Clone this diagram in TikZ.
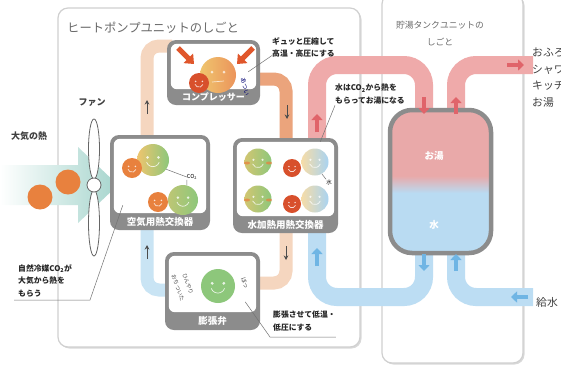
\documentclass[tikz,border=0pt]{standalone}
\usepackage{fontspec}
\setmainfont{Noto Sans CJK JP}
\usetikzlibrary{positioning,arrows.meta,shadows}

\definecolor{framegray}{HTML}{D0D0D0}
\definecolor{boxgray}{HTML}{8C8C8C}
\definecolor{textgray}{HTML}{6A6A6A}
\definecolor{peach}{HTML}{F5D6BF}
\definecolor{orangepipe}{HTML}{EBA47C}
\definecolor{bluepipe}{HTML}{C9E4F4}
\definecolor{hotpipe}{HTML}{EFAAAA}
\definecolor{coldpipe}{HTML}{BCDDF3}
\definecolor{hotarrow}{HTML}{E0646A}
\definecolor{coldarrow}{HTML}{6FB5E4}
\definecolor{tealair}{HTML}{A6D5CD}
\definecolor{faceorange}{HTML}{E8813E}
\definecolor{facered}{HTML}{D8502C}
\definecolor{facegreen}{HTML}{8DC77B}
\definecolor{faceyellow}{HTML}{EFC56E}
\definecolor{faceblue}{HTML}{A9D3F1}
\definecolor{tankpink}{HTML}{E9A9A9}
\definecolor{tankblue}{HTML}{B9DBF2}
\definecolor{squeeze}{HTML}{E0562B}

\pgfdeclareverticalshading{tankfill}{100bp}{color(0bp)=(tankblue); color(46bp)=(tankblue); color(52bp)=(tankpink); color(100bp)=(tankpink)}

% face: name, position, diameter, fill options
\newcommand{\smileface}[4]{%
  \node[circle, inner sep=0pt, minimum size=#3, #4] (#1) at (#2) {};
  \fill[white, opacity=.8] ([shift={(-0.17*#3,0.08*#3)}]#1.center) circle[radius=0.045*#3];
  \fill[white, opacity=.8] ([shift={(0.17*#3,0.08*#3)}]#1.center) circle[radius=0.045*#3];
  \draw[white, opacity=.8, line width=0.7pt] ([shift={(-0.2*#3,-0.07*#3)}]#1.center) arc[start angle=200, end angle=340, radius=0.21*#3];
}

\begin{document}
\begin{tikzpicture}[x=1pt,y=-1pt]
  \tikzstyle{panel}=[draw=framegray, line width=1.2pt, fill=white, rounded corners=10pt,
    drop shadow={shadow xshift=1.5pt, shadow yshift=-1.5pt, fill=black!30}]
  \tikzstyle{unit}=[rectangle, fill=boxgray, rounded corners=9pt, inner sep=0pt]
  \tikzstyle{bandlabel}=[text=white, font=\bfseries\fontsize{9.5}{10}\selectfont, inner sep=0pt]
  \tikzstyle{refpipe}=[line width=13pt, rounded corners=12pt]
  \tikzstyle{waterpipe}=[line width=18pt, rounded corners=20pt]
  \tikzstyle{flow}=[-{Stealth[length=4.5pt,width=4.5pt]}, line width=0.9pt, black!70]
  \tikzstyle{blockarrow}=[-{Triangle[length=6pt,width=11pt]}, line width=4.5pt]
  \tikzstyle{note}=[font=\bfseries\fontsize{7.8}{12.5}\selectfont, align=left, text=black!85,
    inner sep=0pt, anchor=north west]
  \tikzstyle{leader}=[line width=0.5pt, black!55]
  \tikzstyle{tiny}=[font=\fontsize{6}{6}\selectfont, inner sep=0pt]
  \useasboundingbox (0,0) rectangle (561,365);

  % the two units
  \draw[panel] (58,8) rectangle (360,347);
  \draw[panel] (382,-6) rectangle (523,363);
  \node[anchor=west, text=textgray, font=\fontsize{12.3}{14}\selectfont, inner sep=0pt] (hp_t) at (67,28) {ヒートポンプユニットのしごと};
  \node[text=textgray, font=\fontsize{8.8}{17}\selectfont, align=center, inner sep=0pt] (tk_t) at (440,34) {貯湯タンクユニットの\\しごと};

  % outside air and fan
  \shade[left color=white, right color=tealair] (0,165) -- (78,165) -- (78,147) -- (118,185)
    -- (78,223) -- (78,205) -- (0,205) -- cycle;
  \fill[faceorange] (40,197) circle[radius=12.5pt];
  \fill[faceorange] (68,182) circle[radius=12.5pt];
  \draw[black!60, line width=0.8pt, fill=white] (94,149) ellipse[x radius=5.5pt, y radius=30pt];
  \draw[black!60, line width=0.8pt, fill=white] (94,223) ellipse[x radius=5.5pt, y radius=33pt];
  \draw[black!60, line width=0.8pt, fill=white] (94,185) circle[radius=7pt];
  \node[font=\bfseries\fontsize{9}{10}\selectfont, text=black!75] (air_t) at (29,136) {大気の熱};
  \node[font=\bfseries\fontsize{9}{10}\selectfont, text=black!75] (fan_t) at (92,102) {ファン};

  % pipe ports
  \coordinate (r1) at (147,140);
  \coordinate (r2) at (172,46);
  \coordinate (r3) at (255,79);
  \coordinate (r4) at (286,142);
  \coordinate (r5) at (286,229);
  \coordinate (r6) at (255,283);
  \coordinate (r7) at (170,290);
  \coordinate (r8) at (147,226);
  \coordinate (h1) at (317,140);
  \coordinate (h2) at (424,112);
  \coordinate (h3) at (456,112);
  \coordinate (h4) at (533,65);
  \coordinate (k1) at (424,251);
  \coordinate (k2) at (317,231);
  \coordinate (k3) at (533,297);
  \coordinate (k4) at (456,251);

  % water circuit
  \draw[waterpipe, hotpipe] (h1) -- ++(0,-75) -| (h2);
  \draw[waterpipe, hotpipe] (h3) |- (h4);
  \draw[waterpipe, coldpipe] (k1) -- ++(0,46) -| (k2);
  \draw[waterpipe, coldpipe] (k4) |- (k3);

  % refrigerant circuit
  \draw[refpipe, peach] (r1) |- (r2);
  \draw[refpipe, orangepipe] (r3) -| (r4);
  \draw[refpipe, peach] (r5) |- (r6);
  \draw[refpipe, bluepipe] (r7) -| (r8);

  \draw[flow] (147,114) -- (147,100);
  \draw[flow] (147,259) -- (147,245);
  \draw[flow] (287,105) -- (287,119);
  \draw[flow] (286,246) -- (286,260);

  % tank
  \node[draw=boxgray, line width=4.5pt, rounded corners=22pt, shade, shading=tankfill,
    minimum width=101pt, minimum height=143pt] (tank) at (440.5,181.5) {};
  \node[text=white, font=\bfseries\fontsize{9.5}{10}\selectfont] (tank_h) at (434,156) {お湯};
  \node[text=white, font=\bfseries\fontsize{9.5}{10}\selectfont] (tank_c) at (434,225) {水};

  \draw[blockarrow, hotarrow] (317,132) -- (317,114);
  \draw[blockarrow, hotarrow] (424,97) -- (424,114);
  \draw[blockarrow, hotarrow] (456,114) -- (456,97);
  \draw[blockarrow, hotarrow] (507,65) -- (524,65);
  \draw[blockarrow, coldarrow] (317,266) -- (317,248);
  \draw[blockarrow, coldarrow] (424,254) -- (424,271);
  \draw[blockarrow, coldarrow] (456,271) -- (456,254);
  \draw[blockarrow, coldarrow] (528,297) -- (511,297);

  % compressor
  \node[unit, minimum width=93pt, minimum height=65pt] (comp) at (213.5,72.5) {};
  \fill[white, rounded corners=6pt] ([shift={(4pt,-4pt)}]comp.north west) rectangle ([shift={(-4pt,16pt)}]comp.south east);
  \node[bandlabel, font=\bfseries\fontsize{9}{10}\selectfont] (comp_l) at ([yshift=8pt]comp.south) {コンプレッサー};
  \draw[blockarrow, squeeze, line width=5pt, -{Triangle[length=8pt,width=13pt]}] (178,48) -- (194,64);
  \draw[blockarrow, squeeze, line width=5pt, -{Triangle[length=8pt,width=13pt]}] (253,48) -- (237,64);
  \node[circle, inner sep=0pt, minimum size=36pt, left color=faceyellow, right color=faceorange!85] (comp_f) at (218,75) {};
  \fill[white, opacity=.7] (212,72) circle[radius=1.5pt] (224,72) circle[radius=1.5pt];
  \draw[white, opacity=.7, line width=0.7pt] (212,82) -- (224,81);
  \smileface{comp_s}{199,83}{20pt}{fill=facered}
  \node[tiny, rotate=-75, text=black!55!blue] (comp_x) at (245,87) {あつい};

  % air heat exchanger
  \node[unit, minimum width=100pt, minimum height=95pt] (airhx) at (160,182.5) {};
  \fill[white, rounded corners=6pt] ([shift={(4pt,-4pt)}]airhx.north west) rectangle ([shift={(-4pt,17pt)}]airhx.south east);
  \node[bandlabel] (airhx_l) at ([yshift=8.5pt]airhx.south) {空気用熱交換器};
  \smileface{air_b1}{153,160}{32pt}{left color=faceyellow, right color=facegreen}
  \smileface{air_b2}{183,200}{30pt}{left color=faceyellow!50!facegreen, right color=facegreen}
  \smileface{air_s1}{132,168}{20pt}{fill=faceorange}
  \smileface{air_s2}{158,202}{20pt}{fill=faceorange}
  \node[tiny, font=\fontsize{5.5}{6}\selectfont] (co2) at (192,177) {CO\textsubscript{2}};
  \draw[leader] (air_b1.-35) -- (co2.west);
  \draw[leader] (air_b2.75) -- (co2.south west);

  % water heat exchanger
  \node[unit, minimum width=105pt, minimum height=95pt] (waterhx) at (285.5,185.5) {};
  \fill[white, rounded corners=6pt] ([shift={(4pt,-4pt)}]waterhx.north west) rectangle ([shift={(-4pt,17pt)}]waterhx.south east);
  \node[bandlabel] (waterhx_l) at ([yshift=8.5pt]waterhx.south) {水加熱用熱交換器};
  \smileface{wh_g1}{258,162}{27pt}{left color=faceyellow!70!facegreen, right color=facegreen}
  \smileface{wh_g2}{258,199}{27pt}{left color=faceyellow!70!facegreen, right color=facegreen}
  \fill[faceorange, opacity=.75] (247,163) ellipse[x radius=3pt, y radius=1.5pt] (269,163) ellipse[x radius=3pt, y radius=1.5pt];
  \fill[faceorange, opacity=.75] (247,200) ellipse[x radius=3pt, y radius=1.5pt] (269,200) ellipse[x radius=3pt, y radius=1.5pt];
  \smileface{wh_w1}{315,162}{27pt}{left color=faceyellow!60, right color=faceblue}
  \smileface{wh_w2}{315,199}{27pt}{left color=faceyellow!60, right color=faceblue}
  \smileface{wh_r1}{292,168}{18pt}{fill=facered}
  \smileface{wh_r2}{292,204}{18pt}{fill=facered}
  \node[tiny, font=\fontsize{5.5}{6}\selectfont] (wh_x) at (329,182) {水};
  \draw[leader] (wh_w1.-60) -- (wh_x.north west);

  % expansion valve
  \node[unit, minimum width=95pt, minimum height=78pt] (valve) at (212.5,291) {};
  \fill[white, rounded corners=6pt] ([shift={(4pt,-4pt)}]valve.north west) rectangle ([shift={(-4pt,18pt)}]valve.south east);
  \node[bandlabel] (valve_l) at ([yshift=9pt]valve.south) {膨張弁};
  \smileface{valve_f}{218,286}{34pt}{fill=facegreen}
  \node[tiny, rotate=-70, text=black!70, font=\fontsize{5.5}{6}\selectfont] (valve_x) at (188,284) {ひんやり};
  \node[tiny, rotate=-70, text=black!70, font=\fontsize{5.5}{6}\selectfont] (valve_z) at (178,288) {おちついた};
  \node[tiny, rotate=-70, text=black!70] (valve_y) at (245,283) {ほっ};

  % notes
  \node[note] (comp_n) at (272,37) {ギュッと圧縮して\\高温・高圧にする};
  \node[note] (wh_n) at (335,84) {水はCO\textsubscript{2}から熱を\\もらってお湯になる};
  \node[note] (valve_n) at (273,311) {膨張させて低温・\\低圧にする};
  \node[note] (air_n) at (18,264) {自然冷媒CO\textsubscript{2}が\\大気から熱を\\もらう};

  \coordinate (air_k) at (90,300);
  \coordinate (valve_k) at (270,337);
  \draw[leader] (14,300) -- (air_k) -- ([shift={(13pt,25pt)}]airhx.south west);
  \draw[leader] ([shift={(-15pt,-50pt)}]valve.north east) -- (valve_k) -- (valve_k -| valve_n.east);
  \draw[leader] ([shift={(-12pt,-32pt)}]comp.north east) -- ([yshift=2pt]comp_n.south west);
  \draw[leader] ([shift={(-18pt,-4pt)}]waterhx.north east) -- ([yshift=-1pt]wh_n.south west);

  % uses of hot water and water supply
  \node[anchor=north west, align=left, text=black!75, font=\fontsize{10.8}{16.5}\selectfont, inner sep=0pt] (out_t) at (532,48) {おふろ\\シャワー\\キッチン\\お湯};
  \node[anchor=west, text=black!75, font=\fontsize{10.8}{12}\selectfont, inner sep=0pt] (feed_t) at (536,302) {給水};
\end{tikzpicture}
\end{document}
